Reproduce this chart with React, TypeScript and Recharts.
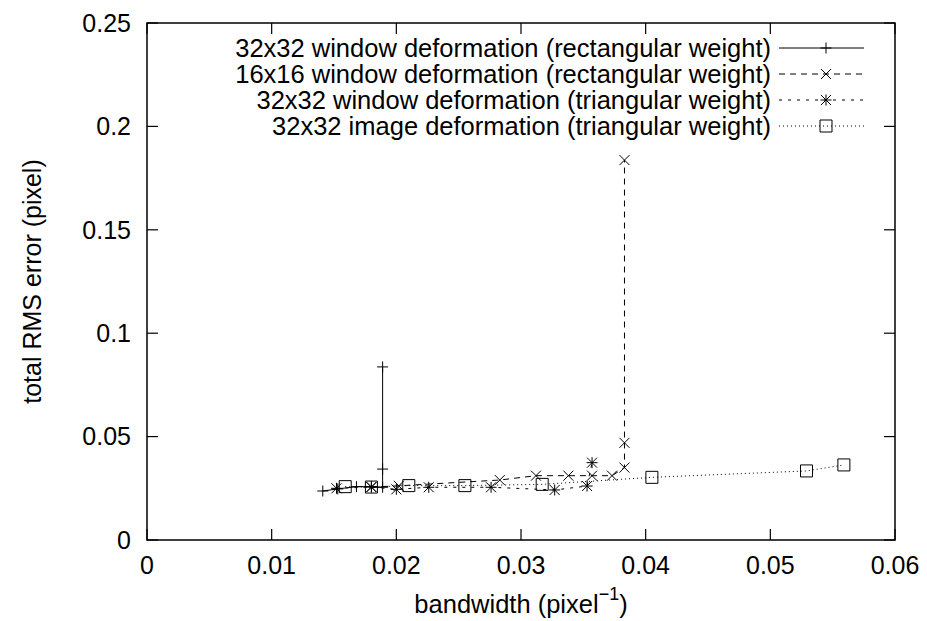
import React from "react";
import { LineChart, Line, XAxis, YAxis, Legend, ReferenceLine, ReferenceArea } from "recharts";

// bandwidth (pixel^-1) / total RMS error (pixel)
const win32RectX = [0.0141, 0.0153, 0.0168, 0.018, 0.0189, 0.0189, 0.0189];
const win32RectY = [0.0237, 0.0247, 0.0258, 0.0258, 0.0255, 0.0343, 0.0837];

const win16RectX = [0.018, 0.0202, 0.0283, 0.0312, 0.0338, 0.0357, 0.0373, 0.0383, 0.0383, 0.0383];
const win16RectY = [0.0256, 0.0262, 0.029, 0.0311, 0.0311, 0.0311, 0.0311, 0.035, 0.047, 0.1837];

const win32TriX = [0.0152, 0.018, 0.02, 0.0226, 0.0276, 0.0327, 0.0353, 0.0357];
const win32TriY = [0.025, 0.0256, 0.0245, 0.0255, 0.0255, 0.0242, 0.0261, 0.0374];

const img32TriX = [0.0159, 0.018, 0.021, 0.0255, 0.0317, 0.0405, 0.0529, 0.0559];
const img32TriY = [0.0258, 0.0256, 0.0263, 0.0263, 0.0269, 0.0303, 0.0334, 0.0363];

const xTicks = [0, 0.01, 0.02, 0.03, 0.04, 0.05, 0.06];
const yTicks = [0, 0.05, 0.1, 0.15, 0.2, 0.25];

const FONT = '"Liberation Sans", Arial, Helvetica, sans-serif';
const TICK = 11; // gnuplot style: ticks point into the plot, on all four sides

const zip = (xs: number[], ys: number[]) => xs.map((x, i) => ({ x, y: ys[i] }));

const series = [
  { key: "s1", name: "32x32 window deformation (rectangular weight)", data: zip(win32RectX, win32RectY), dash: undefined, marker: "plus" },
  { key: "s2", name: "16x16 window deformation (rectangular weight)", data: zip(win16RectX, win16RectY), dash: "6 5", marker: "cross" },
  { key: "s3", name: "32x32 window deformation (triangular weight)", data: zip(win32TriX, win32TriY), dash: "3 6", marker: "star" },
  { key: "s4", name: "32x32 image deformation (triangular weight)", data: zip(img32TriX, img32TriY), dash: "1 3", marker: "square" },
];

function Marker({ type, cx, cy }: { type: string; cx: number; cy: number }) {
  const p = 5.5;
  const c = 5;
  let d = "";
  if (type === "plus") d = `M${cx - p},${cy}H${cx + p}M${cx},${cy - p}V${cy + p}`;
  else if (type === "cross") d = `M${cx - c},${cy - c}L${cx + c},${cy + c}M${cx - c},${cy + c}L${cx + c},${cy - c}`;
  else if (type === "star")
    d = `M${cx - p},${cy}H${cx + p}M${cx},${cy - p}V${cy + p}M${cx - c},${cy - c}L${cx + c},${cy + c}M${cx - c},${cy + c}L${cx + c},${cy - c}`;
  else d = `M${cx - 6},${cy - 6}h12v12h-12Z`;
  return <path d={d} stroke="#000" strokeWidth={1} fill="none" />;
}

// short inward ticks at both ends of a reference line
function xTickShape(props: any) {
  const { x1, y1, y2 } = props;
  const top = Math.min(y1, y2);
  const bot = Math.max(y1, y2);
  return (
    <g>
      <line x1={x1} x2={x1} y1={bot} y2={bot - TICK} stroke="#000" strokeWidth={1.2} />
      <line x1={x1} x2={x1} y1={top} y2={top + TICK} stroke="#000" strokeWidth={1.2} />
    </g>
  );
}

function yTickShape(props: any) {
  const { x1, x2, y1 } = props;
  const l = Math.min(x1, x2);
  const r = Math.max(x1, x2);
  return (
    <g>
      <line x1={l} x2={l + TICK} y1={y1} y2={y1} stroke="#000" strokeWidth={1.2} />
      <line x1={r} x2={r - TICK} y1={y1} y2={y1} stroke="#000" strokeWidth={1.2} />
    </g>
  );
}

const tickStyle = { fontSize: 25, fill: "#000", fontFamily: FONT };

function XTitle(props: any) {
  const vb = props.viewBox || {};
  const cx = vb.x + vb.width / 2;
  return (
    <text x={cx} y={vb.y + 64} textAnchor="middle" dominantBaseline="central" fontSize={25.5} fontFamily={FONT} fill="#000">
      <tspan>bandwidth (pixel</tspan>
      <tspan dy={-10} fontSize={18}>−1</tspan>
      <tspan dy={10}>)</tspan>
    </text>
  );
}

function YTitle(props: any) {
  const vb = props.viewBox || {};
  const cy = vb.y + vb.height / 2;
  const cx = 32;
  return (
    <text x={cx} y={cy} transform={`rotate(-90 ${cx} ${cy})`} textAnchor="middle" dominantBaseline="central" fontSize={25} fontFamily={FONT} fill="#000">
      total RMS error (pixel)
    </text>
  );
}

function LegendBox() {
  return (
    <div style={{ fontFamily: FONT, fontSize: 25.5, color: "#000" }}>
      {series.map((s) => (
        <div key={s.key} style={{ display: "flex", justifyContent: "flex-end", alignItems: "center", height: 26 }}>
          <span style={{ display: "inline-block", whiteSpace: "nowrap", height: 26, lineHeight: "26px", overflow: "visible" }}>
            {s.name}
          </span>
          <svg width={95} height={26} style={{ display: "block" }}>
            <line x1={8} x2={93} y1={13} y2={13} stroke="#000" strokeWidth={1} strokeDasharray={s.dash} />
            <Marker type={s.marker} cx={55} cy={13} />
          </svg>
        </div>
      ))}
    </div>
  );
}

export default function App() {
  return (
    <div style={{ position: "absolute", left: 0, top: 0, background: "#fff" }}>
      <LineChart width={927} height={621} margin={{ top: 23, right: 32, bottom: 11, left: 7 }}>
        <XAxis
          dataKey="x"
          type="number"
          domain={[0, 0.06]}
          ticks={xTicks}
          interval={0}
          height={70}
          tickSize={0}
          tickMargin={16}
          tickLine={false}
          axisLine={false}
          tick={tickStyle}
          label={<XTitle />}
          allowDuplicatedCategory={false}
        />
        <YAxis
          type="number"
          domain={[0, 0.25]}
          ticks={yTicks}
          interval={0}
          width={140}
          tickSize={0}
          tickMargin={16}
          tickLine={false}
          axisLine={false}
          tick={tickStyle}
          label={<YTitle />}
        />
        <ReferenceArea x1={0} x2={0.06} y1={0} y2={0.25} fill="none" fillOpacity={0} stroke="#000" strokeWidth={1.5} />
        {xTicks.map((t) => (
          <ReferenceLine key={`xt${t}`} x={t} stroke="none" shape={xTickShape} />
        ))}
        {yTicks.map((t) => (
          <ReferenceLine key={`yt${t}`} y={t} stroke="none" shape={yTickShape} />
        ))}
        <Legend
          layout="horizontal"
          verticalAlign="middle"
          align="center"
          content={() => <LegendBox />}
          wrapperStyle={{ position: "absolute", top: 35, left: 156, width: 710 }}
        />
        {series.map((s) => (
          <Line
            key={s.key}
            data={s.data}
            dataKey="y"
            name={s.name}
            type="linear"
            stroke="#000"
            strokeWidth={1}
            strokeDasharray={s.dash}
            isAnimationActive={false}
            activeDot={false}
            dot={(p: any) => <Marker key={`${s.key}-${p.index}`} type={s.marker} cx={p.cx} cy={p.cy} />}
          />
        ))}
      </LineChart>
    </div>
  );
}
